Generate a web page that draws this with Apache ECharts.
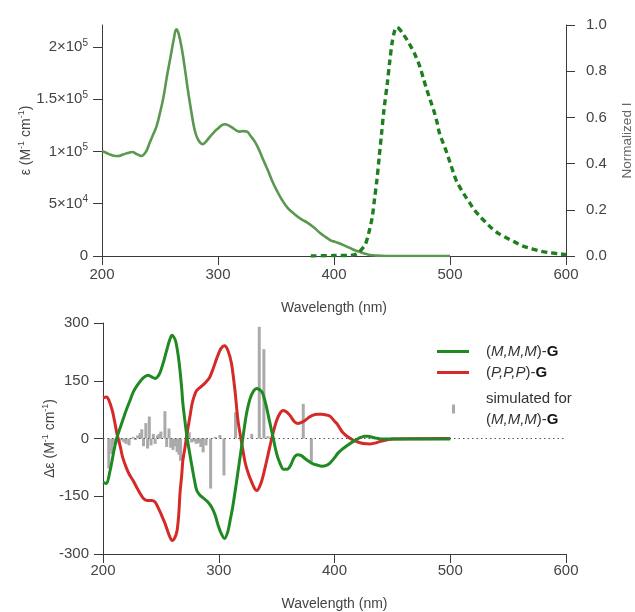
<!DOCTYPE html>
<html>
<head>
<meta charset="utf-8">
<script src="https://cdn.jsdelivr.net/npm/echarts@6/dist/echarts.min.js"></script>
<style>
html,body{margin:0;padding:0;background:#fff;}
#c{width:635px;height:612px;}
</style>
</head>
<body>
<div id="c"></div>
<script>
// ---------- DATA ----------
// Top panel: absorption (epsilon, M^-1 cm^-1) vs wavelength (nm)
const absorption = [
[200,100500],[202,99500],[206,97500],[210,96000],[214,95700],[218,97000],[222,98500],[226,99500],
[230,97500],[234,95700],[238,100000],[241,108000],[244,116000],[247,124000],[250,137000],[253,152000],
[256,172000],[259,190000],[262,208000],[264,217000],[266,213000],[269,197000],[272,175000],[274,159000],
[277,138000],[280,120000],[283,111000],[287,107000],[290,110000],[293,114000],[297,119000],[300,122000],
[303,125000],[306,126000],[309,125000],[312,123000],[316,120000],[319,119000],[322,119500],[325,119000],
[328,115000],[332,109000],[336,100000],[339,92000],[343,82000],[347,71000],[351,62000],[355,54000],
[360,46000],[366,40000],[372,35000],[377,32000],[383,27000],[388,22000],[393,18000],[397,15000],
[401,13500],[405,12000],[410,9500],[414,7500],[418,5500],[422,4000],[426,2500],[431,1000],[436,400],
[445,0],[500,0]
];
// Top panel: normalized emission intensity
const emission = [
[380,0],[400,0.002],[415,0.003],[420,0.01],[424,0.03],[427,0.05],[430,0.1],[433,0.17],[435,0.25],
[437,0.33],[439,0.43],[441,0.53],[443,0.63],[446,0.75],[448,0.84],[450,0.92],[452,0.97],[454,0.99],
[456,0.985],[459,0.965],[463,0.935],[467,0.9],[470,0.87],[474,0.82],[477,0.77],[480,0.72],[483,0.675],
[486,0.63],[489,0.575],[491,0.53],[494,0.49],[497,0.45],[500,0.405],[503,0.36],[506,0.32],[510,0.285],
[513,0.26],[517,0.23],[521,0.2],[526,0.17],[531,0.145],[536,0.12],[542,0.097],[549,0.078],[556,0.06],
[563,0.043],[570,0.032],[577,0.022],[585,0.015],[595,0.009],[600,0.006]
];
// Bottom panel: CD spectra (delta epsilon)
const cdMMM = [
[200,-114],[203,-117],[206,-85],[208,-55],[210,-23],[212,2],[215,29],[218,56],[221,81],[224,104],
[226,120],[230,140],[235,158],[239,164],[242,160],[245,156],[247,160],[249,169],[252,196],[255,229],
[257.5,255],[259.6,268],[261.5,262],[263,250],[265,215],[266.5,177],[268,130],[269,91],[271,40],
[272.6,3],[275,-40],[277,-75],[279,-108],[281,-135],[284,-148],[286,-153],[290,-163],[294,-179],
[297,-200],[299,-221],[302,-246],[305,-260],[308,-240],[310,-210],[312,-179],[315,-120],[318,-57],
[321,5],[324,65],[327,103],[330,123],[333,130],[336,125],[338,117],[341,85],[344,43],[347,2],
[350,-39],[353,-65],[356,-80],[359,-80],[362,-70],[365,-50],[368,-42],[371,-44],[374.5,-52],
[378,-60],[381,-65],[385,-69],[389,-72],[393,-70],[396,-64],[400,-50],[403,-38],[407,-27],[411,-18],
[415,-10],[418,-5],[422,2],[426,6],[429,6],[432,4],[436,1],[440,-1],[450,-1],[500,-1]
];
const cdPPP = [
[200,106],[203,108],[205,100],[208,73],[210,45],[212,13],[215,-22],[217,-49],[220,-75],[223,-95],
[226,-109],[230,-132],[235,-156],[238,-161],[242,-161],[245,-165],[247.5,-179],[250,-195],[253.6,-221],
[257,-250],[259.6,-265],[262,-258],[264,-239],[265.5,-195],[266.5,-143],[268,-95],[269,-57],[271,-20],
[272.6,13],[275,55],[277,91],[279,112],[281,125],[284,133],[286,138],[289,147],[292,158],[295,180],
[298.5,210],[302,234],[305,241],[308,228],[311,195],[314,125],[316.6,47],[320,-15],[323,-65],[326,-95],
[329,-117],[331,-130],[333,-135],[336,-120],[338,-101],[341,-63],[344,-23],[347,15],[350,47],[353,66],
[355.5,73],[358,70],[361.5,60],[365,45],[368,39],[371,41],[374.5,47],[378,55],[381,60],[385,63],
[389,63],[393,61],[396,58],[400,45],[402,39],[405,25],[407,16],[411,5],[416,-4],[420,-9],[425,-13],
[430.7,-14],[435,-12],[439,-8],[445,-4],[450,-1],[500,0]
];
// Bottom panel: simulated stick spectrum for (M,M,M)-G
const simulated = [
[205,-78],[207.5,-40],[210,-16],[212,-8],[214,-12],[216,-5],[218,-10],[220,-14],[222.5,-18],
[226,4],[228,-4],[230,8],[232,14],[233.5,24],[235,-20],[237,40],[238.5,-26],[240,57],[241.5,-18],
[243.5,12],[245,-14],[247,8],[248.5,12],[250,18],[253.5,71],[255,-22],[257,26],[258.5,-24],
[260.5,-30],[262,-20],[264,-35],[265.5,-42],[267,-58],[272.5,24],[274.5,16],[276.5,-10],[278.5,-8],
[280.5,-14],[282.5,-12],[284.5,-22],[286.5,-36],[289,-18],[293,-130],[297,4],[301,9],[304.5,-96],
[314.5,68],[328.5,12],[335,290],[339,232],[342.5,6],[373,90],[380,-60]
];
const epsTicks = [0, 50000, 100000, 150000, 200000];

const nameMMM = '(M,M,M)-G';
const namePPP = '(P,P,P)-G';
const nameSim = 'simulated for (M,M,M)-G';

// ---------- CHART ----------
const FONT = '"Liberation Sans", Arial, sans-serif';
const AX = '#3a3a3a';
const LBL = '#444';
const axisLine = {show: true, onZero: false, lineStyle: {color: AX, width: 1}};
const axisTick = {show: true, length: 9, lineStyle: {color: AX, width: 1}};

function sci(v) {
  if (v === 0) return '{n|0}';
  const e = Math.floor(Math.log10(v) + 1e-9);
  const m = Math.round(v / Math.pow(10, e) * 10) / 10;
  return '{n|' + m + '×10}{s|' + e + '}';
}
const supRich = {
  n: {fontSize: 15, fontFamily: FONT, color: LBL, lineHeight: 18},
  s: {fontSize: 10, fontFamily: FONT, color: LBL, lineHeight: 11, verticalAlign: 'top'}
};
const unitRich = {
  t: {fontSize: 14, fontFamily: FONT, color: '#444', lineHeight: 18},
  s: {fontSize: 9, fontFamily: FONT, color: '#444', lineHeight: 10, verticalAlign: 'top'}
};
const legRich = {
  n: {fontSize: 15, fontFamily: FONT, color: '#333', lineHeight: 21},
  i: {fontSize: 15, fontFamily: FONT, color: '#333', fontStyle: 'italic', lineHeight: 21},
  b: {fontSize: 15, fontFamily: FONT, color: '#111', fontWeight: 'bold', lineHeight: 21}
};
function legFmt(name) {
  const letter = name.indexOf('(P') >= 0 ? 'P,P,P' : 'M,M,M';
  const core = '{n|(}{i|' + letter + '}{n|)-}{b|G}';
  if (name.indexOf('simulated') === 0) return '{n|simulated for}\n' + core;
  return core;
}

const chart = echarts.init(document.getElementById('c'), null, {renderer: 'canvas'});
chart.setOption({
  animation: false,
  backgroundColor: '#fff',
  textStyle: {fontFamily: FONT},
  grid: [
    {left: 102, top: 25, width: 464, height: 231, outerBoundsMode: 'none', containLabel: false},
    {left: 103, top: 323, width: 463, height: 231, outerBoundsMode: 'none', containLabel: false}
  ],
  legend: [
    {data: [nameMMM], icon: 'rect', left: 437, top: 344, padding: 0, itemWidth: 32, itemHeight: 3, formatter: legFmt,
     textStyle: {rich: legRich, padding: [0, 0, 0, 12]}},
    {data: [namePPP], icon: 'rect', left: 437, top: 365, padding: 0, itemWidth: 32, itemHeight: 3, formatter: legFmt,
     textStyle: {rich: legRich, padding: [0, 0, 0, 12]}},
    {data: [nameSim], icon: 'rect', left: 452, top: 391, padding: 0, itemWidth: 3, itemHeight: 9, formatter: legFmt,
     textStyle: {rich: legRich, padding: [0, 0, 0, 26]}}
  ],
  xAxis: [
    {type: 'value', gridIndex: 0, min: 200, max: 600, interval: 100,
     name: 'Wavelength (nm)', nameLocation: 'middle', nameGap: 45, nameMoveOverlap: false,
     nameTextStyle: {fontSize: 14, color: '#444', fontFamily: FONT},
     axisLine: axisLine, axisTick: axisTick, splitLine: {show: false},
     axisLabel: {fontSize: 15, color: LBL, margin: 11, fontFamily: FONT}},
    {type: 'value', gridIndex: 1, min: 200, max: 600, interval: 100,
     name: 'Wavelength (nm)', nameLocation: 'middle', nameGap: 43, nameMoveOverlap: false,
     nameTextStyle: {fontSize: 14, color: '#444', fontFamily: FONT},
     axisLine: axisLine, axisTick: axisTick, splitLine: {show: false},
     axisLabel: {fontSize: 15, color: LBL, margin: 9, fontFamily: FONT}}
  ],
  yAxis: [
    {type: 'value', gridIndex: 0, min: 0, max: 221000, position: 'left',
     name: '{t|ε (M}{s|-1}{t| cm}{s|-1}{t|)}', nameLocation: 'middle', nameGap: 67, nameMoveOverlap: false,
     nameTextStyle: {rich: unitRich},
     axisLine: axisLine,
     axisTick: Object.assign({}, axisTick, {customValues: epsTicks}),
     splitLine: {show: false},
     axisLabel: {customValues: epsTicks, margin: 14, formatter: sci, rich: supRich}},
    {type: 'value', gridIndex: 0, min: 0, max: 1, interval: 0.2, position: 'right',
     name: 'Normalized I', nameLocation: 'middle', nameGap: 54, nameMoveOverlap: false,
     nameTextStyle: {fontSize: 13.5, color: '#666', fontFamily: FONT},
     axisLine: axisLine, axisTick: axisTick, splitLine: {show: false},
     axisLabel: {fontSize: 15, color: LBL, margin: 20, fontFamily: FONT,
                 formatter: v => v.toFixed(1)}},
    {type: 'value', gridIndex: 1, min: -300, max: 300, interval: 150, position: 'left',
     name: '{t|Δε (M}{s|-1}{t| cm}{s|-1}{t|)}', nameLocation: 'middle', nameGap: 44, nameMoveOverlap: false,
     nameTextStyle: {rich: unitRich},
     axisLine: axisLine, axisTick: axisTick, splitLine: {show: false},
     axisLabel: {fontSize: 15, color: LBL, margin: 14, fontFamily: FONT}}
  ],
  series: [
    {name: 'absorption', type: 'line', xAxisIndex: 0, yAxisIndex: 0, data: absorption,
     smooth: 0.4, symbol: 'none', lineStyle: {color: '#5a9850', width: 2.6}, z: 3},
    {name: 'emission', type: 'line', xAxisIndex: 0, yAxisIndex: 1, data: emission,
     smooth: 0.3, symbol: 'none', lineStyle: {color: '#1e7f1e', width: 3.4, type: [6, 4]}, z: 4},
    {name: nameSim, type: 'bar', xAxisIndex: 1, yAxisIndex: 2, data: simulated,
     barWidth: 3, itemStyle: {color: '#aaaaaa'}, z: 2,
     markLine: {silent: true, symbol: 'none', label: {show: false},
                lineStyle: {color: '#555', width: 1.2, type: [1.5, 3]},
                data: [{yAxis: 0}]}},
    {name: namePPP, type: 'line', xAxisIndex: 1, yAxisIndex: 2, data: cdPPP,
     smooth: 0.3, symbol: 'none', lineStyle: {color: '#d42a28', width: 3}, itemStyle: {color: '#d42a28'}, z: 3},
    {name: nameMMM, type: 'line', xAxisIndex: 1, yAxisIndex: 2, data: cdMMM,
     smooth: 0.3, symbol: 'none', lineStyle: {color: '#1f8a22', width: 3}, itemStyle: {color: '#1f8a22'}, z: 4}
  ]
});
</script>
</body>
</html>
